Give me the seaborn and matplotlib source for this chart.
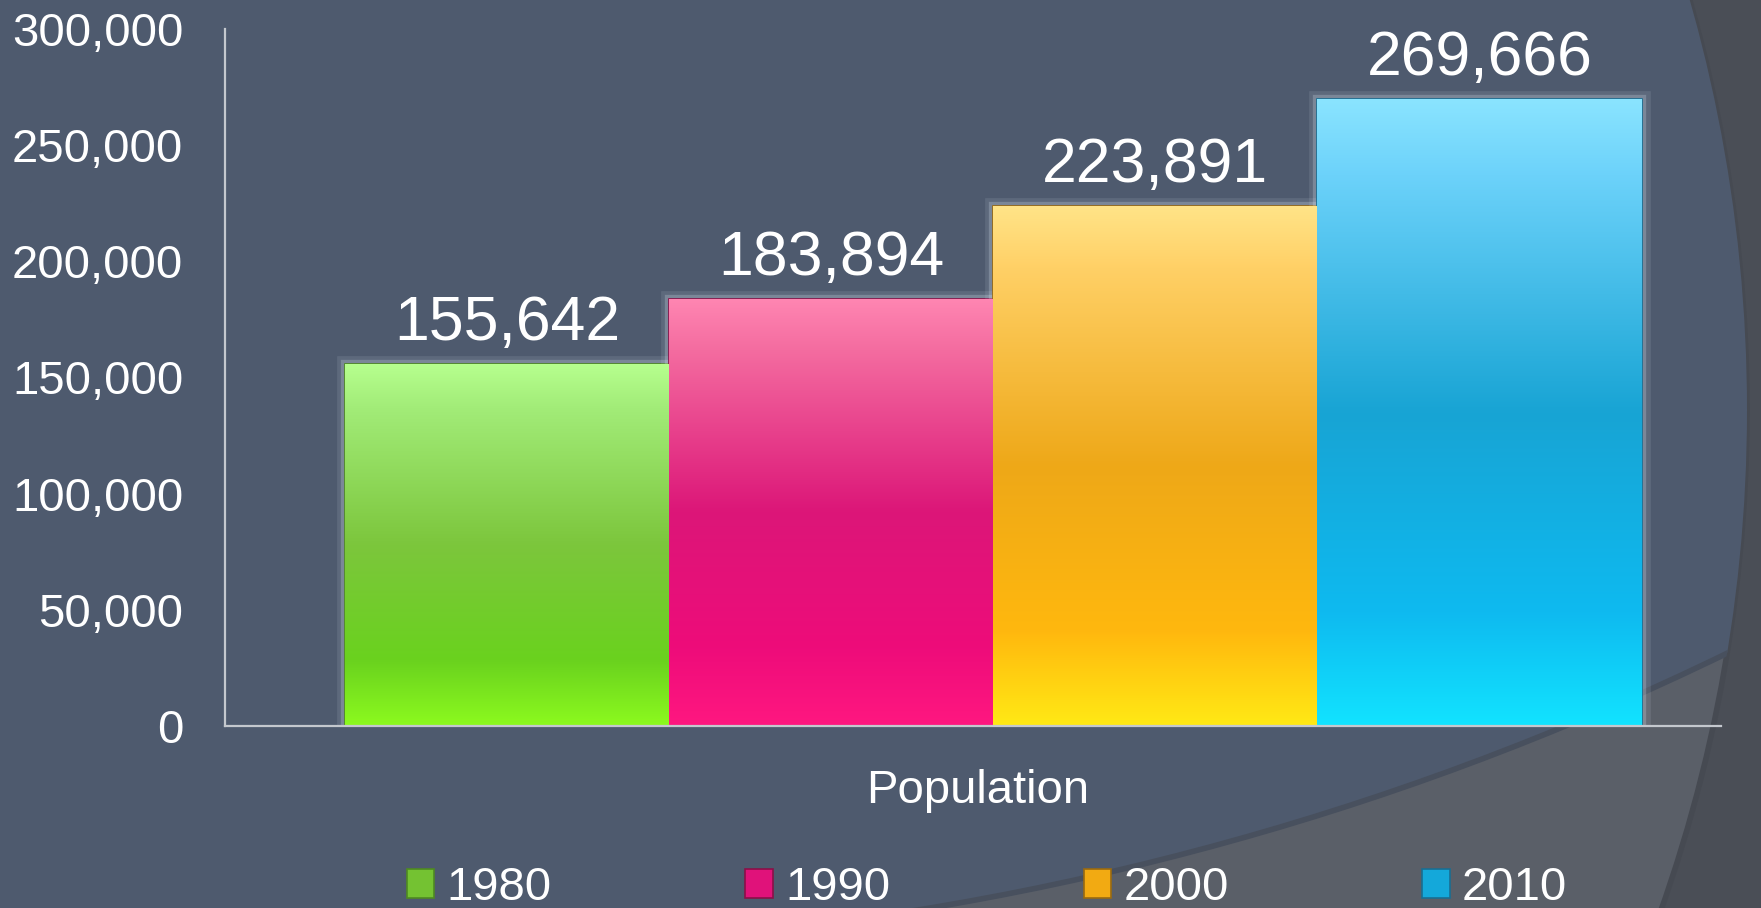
import numpy as np
import pandas as pd
import matplotlib
matplotlib.use("Agg")
import matplotlib.pyplot as plt
import matplotlib.patheffects as pe
from matplotlib.patches import Ellipse
from matplotlib.colors import LinearSegmentedColormap
from matplotlib.transforms import ScaledTranslation
import seaborn as sns

# data
years = ["1980", "1990", "2000", "2010"]
population = [155642, 183894, 223891, 269666]
category = ["Population"] * len(years)
y_ticks = [0, 50000, 100000, 150000, 200000, 250000, 300000]

# flat colours (legend) and vertical gradients (bars), top -> bottom
mid_colors = ["#74C232", "#E0127A", "#F2AA12", "#14A8DA"]
edge_colors = ["#4E8A22", "#8A1048", "#9A6A10", "#1A6E92"]
gradients = [
    ["#B6FF8E", "#A2EC78", "#7CC63C", "#6AD21E", "#8CFA1E"],
    ["#FF86B2", "#F46CA0", "#DC1678", "#EE0C7A", "#FF1780"],
    ["#FFE488", "#FFD066", "#EEA818", "#FFB80E", "#FFE915"],
    ["#8AE4FF", "#6CD2FA", "#18A4D4", "#0EBAF0", "#12E3FF"],
]
stops = [0.0, 0.12, 0.5, 0.82, 1.0]

df = pd.DataFrame({"category": category, "year": years, "population": population})

sns.set_style("white")
plt.rcParams["font.family"] = ["Liberation Sans", "DejaVu Sans"]

W, H = 1761, 908
fig = plt.figure(figsize=(W / 100, H / 100), dpi=100)
fig.patch.set_facecolor("#4A4E56")

# background swooshes
big = Ellipse((249 / W, 1 - 410 / H), 2 * 1498 / W, 2 * 1498 / H,
              transform=fig.transFigure, facecolor="#5A5F68",
              edgecolor="#464A52", linewidth=4, zorder=-2)
fig.patches.append(big)
inner = Ellipse((448 / W, 1 + 1975 / H), 2 * 2923 / W, 2 * 2923 / H,
                transform=fig.transFigure, facecolor="#4E5A6E",
                edgecolor="#48505E", linewidth=4, zorder=-1)
inner.set_clip_path(big)
fig.patches.append(inner)

ax = fig.add_axes([225 / W, (H - 726) / H, 1496 / W, 697 / H])
ax.set_facecolor("none")

sns.barplot(data=df, x="category", y="population", hue="year",
            palette=mid_colors, saturation=1, ax=ax, width=0.8,
            edgecolor="none", linewidth=0)

# gradient fill clipped to each bar, with a soft light glow
for cont, grad, ec in zip(ax.containers, gradients, edge_colors):
    cmap = LinearSegmentedColormap.from_list("g", list(zip(stops, grad)))
    for bar in cont:
        x0, w, h = bar.get_x(), bar.get_width(), bar.get_height()
        bar.set_edgecolor(ec)
        bar.set_linewidth(1.2)
        bar.set_path_effects([pe.Stroke(linewidth=12, foreground="#E8F2FF", alpha=0.10),
                              pe.Stroke(linewidth=6, foreground="#E8F2FF", alpha=0.22),
                              pe.Normal()])
        im = ax.imshow(np.linspace(0, 1, 256).reshape(-1, 1), cmap=cmap,
                       extent=[x0, x0 + w, 0, h], origin="upper",
                       aspect="auto", zorder=bar.get_zorder() + 0.1)
        im.set_clip_path(bar)
    ax.bar_label(cont, labels=[f"{v:,.0f}" for v in cont.datavalues],
                 padding=8, color="white", fontsize=45)

ax.set_xlim(-0.474, 0.449)
ax.set_ylim(0, 300000)
ax.set_yticks(y_ticks)
ax.set_yticklabels([f"{v:,}" for v in y_ticks])
ax.set_xlabel("")
ax.set_ylabel("")
ax.tick_params(axis="both", length=0, colors="white", labelsize=34)
ax.tick_params(axis="y", pad=30)
ax.tick_params(axis="x", pad=31)
for lbl in ax.get_xticklabels():
    lbl.set_transform(lbl.get_transform() + ScaledTranslation(-0.16, 0, fig.dpi_scale_trans))

for s in ["top", "right"]:
    ax.spines[s].set_visible(False)
for s in ["left", "bottom"]:
    ax.spines[s].set_color("#C4C8CE")
    ax.spines[s].set_linewidth(1.6)
    ax.spines[s].set_zorder(5)
ax.spines["bottom"].set_bounds(-0.474, 0.449)

old = ax.get_legend()
handles = old.legend_handles
labels = [t.get_text() for t in old.get_texts()]
old.remove()
for hnd, ec in zip(handles, edge_colors):
    hnd.set_edgecolor(ec)
    hnd.set_linewidth(1.2)
leg = fig.legend(handles, labels, loc="center", bbox_to_anchor=(987 / W, 20 / H),
                 ncol=4, frameon=False, fontsize=34, handlelength=0.58,
                 handleheight=0.58, handletextpad=0.26, columnspacing=4.1,
                 borderpad=0, labelcolor="white")

fig.savefig("out.png", dpi=100, facecolor=fig.get_facecolor())
